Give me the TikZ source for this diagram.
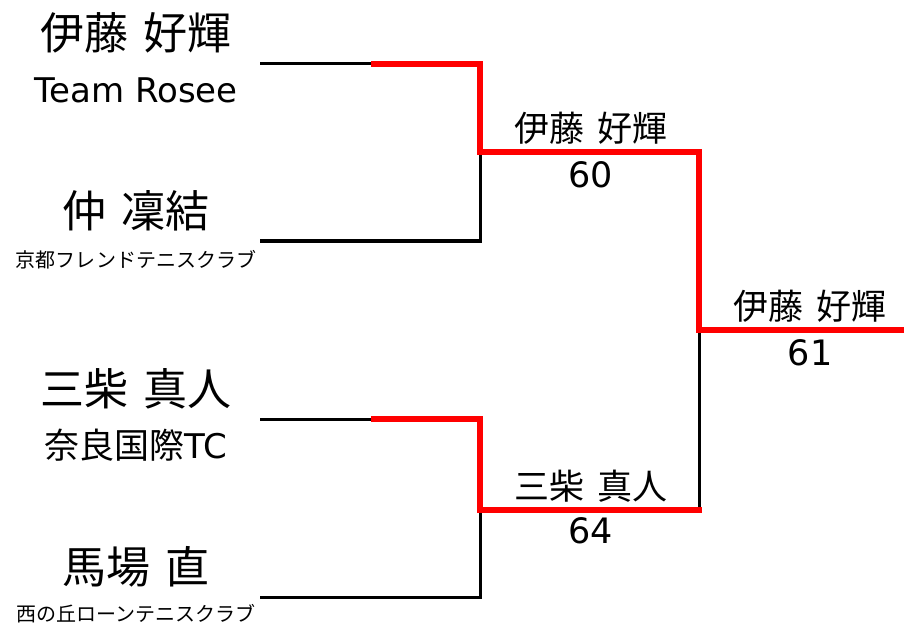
\documentclass[tikz,border=0pt]{standalone}
\usepackage{fontspec}
\setmainfont{Noto Sans CJK JP}
\newfontfamily\latinf{DejaVu Sans}
\definecolor{wred}{RGB}{255,0,0}
\newcommand{\gap}{\hspace{0.35em}}
\tikzset{
  pname/.style={inner sep=0pt, font=\fontsize{44bp}{44bp}\selectfont},
  pclub/.style={inner sep=0pt, font=\fontsize{35bp}{35bp}\selectfont},
  pclubs/.style={inner sep=0pt, font=\fontsize{20bp}{20bp}\selectfont},
  wname/.style={inner sep=0pt, font=\fontsize{35bp}{35bp}\selectfont},
  wscore/.style={inner sep=0pt, font=\fontsize{35bp}{35bp}\selectfont\latinf},
  lose/.style={draw=black, line width=3bp, line join=miter},
  win/.style={draw=wred, line width=5.5bp, line join=miter}
}
\begin{document}
\begin{tikzpicture}[x=1bp,y=-1bp]
\useasboundingbox (0,0) rectangle (904,628);
% player texts
\node[pname] (n1) at (136,33) {伊藤\gap 好輝};
\node[pclub, font=\fontsize{34bp}{34bp}\selectfont\latinf] (c1) at (136,90) {Team Rosee};
\node[pname] (n2) at (136,211) {仲\gap 凜結};
\node[pclubs] (c2) at (136,260) {京都フレンドテニスクラブ};
\node[pname] (n3) at (136,389) {三柴\gap 真人};
\node[pclub] (c3) at (136,445) {奈良国際{\fontsize{34bp}{34bp}\selectfont\latinf TC}};
\node[pname] (n4) at (136,567) {馬場\gap 直};
\node[pclubs] (c4) at (136,614) {西の丘ローンテニスクラブ};
% winners
\node[wname] (w1) at (591,128) {伊藤\gap 好輝};
\node[wscore] (s1) at (591,175) {60};
\node[wname] (w2) at (591,486) {三柴\gap 真人};
\node[wscore] (s2) at (591,531) {64};
\node[wname] (w3) at (810,306) {伊藤\gap 好輝};
\node[wscore] (s3) at (810,353) {61};
% bracket coordinates
\coordinate (a1) at (260,64);
\coordinate (m1) at (371,64);
\coordinate (j1) at (480,64);
\coordinate (a2) at (260,241);
\coordinate (j2) at (480,241);
\coordinate (q1) at (480,152);
\coordinate (r1) at (699,152);
\coordinate (a3) at (260,419);
\coordinate (m3) at (371,419);
\coordinate (j3) at (480,419);
\coordinate (a4) at (260,597);
\coordinate (j4) at (480,597);
\coordinate (q2) at (480,510);
\coordinate (r2) at (699,510);
\coordinate (r2e) at (701.5,510);
\coordinate (f) at (699,330);
\coordinate (fe) at (904,330);
% losing lines
\draw[lose] (a1) -- (m1);
\draw[lose] (a2) -- (j2) -- (q1);
\draw[lose] (a3) -- (m3);
\draw[lose] (a4) -- (j4) -- (q2);
\draw[lose] (f) -- (r2);
% winning lines
\draw[win] (m1) -- (j1) -- (q1) -- (r1) -- (f) -- (fe);
\draw[win] (m3) -- (j3) -- (q2) -- (r2e);
\end{tikzpicture}
\end{document}
